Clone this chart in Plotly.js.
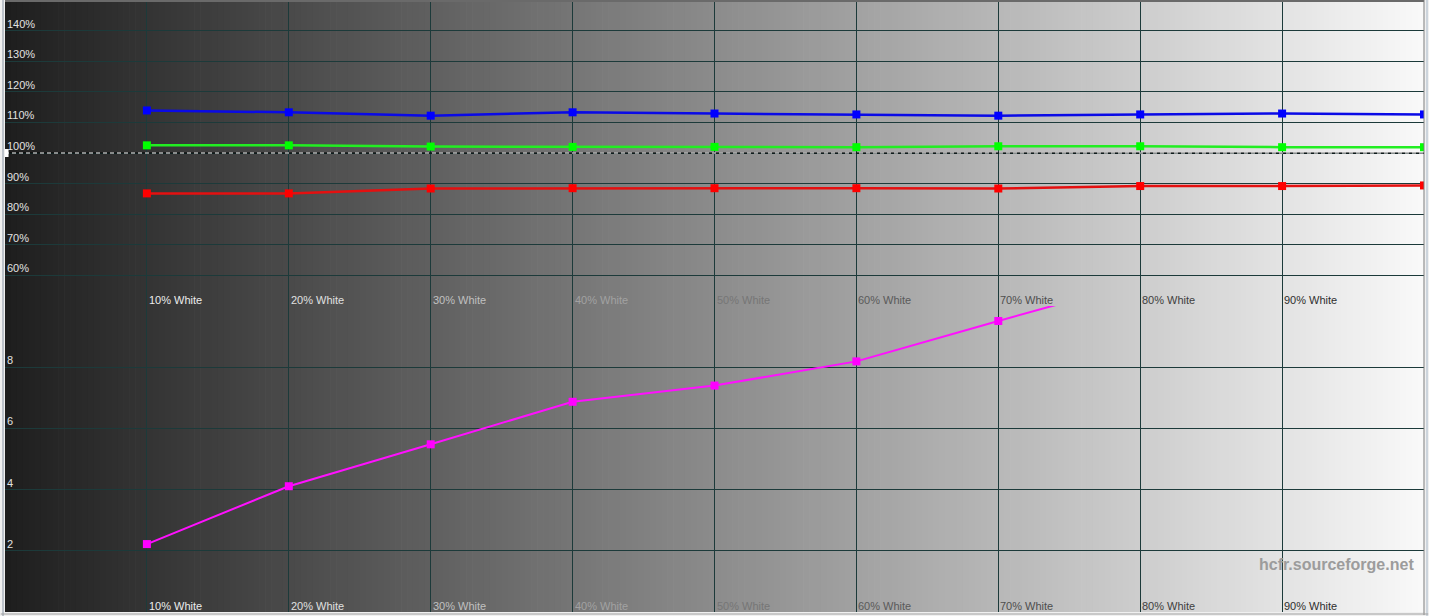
<!DOCTYPE html>
<html>
<head>
<meta charset="utf-8">
<script src="https://cdn.plot.ly/plotly-3.0.1.min.js"></script>
<style>html,body{margin:0;padding:0;background:#f0f0f0;}#chart{width:1429px;height:616px;}</style>
</head>
<body>
<div id="chart"></div>
<script>
// ---- data ----
const levels = [10, 20, 30, 40, 50, 60, 70, 80, 90, 100];
const levelLabels = ["10% White", "20% White", "30% White", "40% White", "50% White", "60% White", "70% White", "80% White", "90% White"];
const redLevel   = [86.8, 86.8, 88.4, 88.5, 88.5, 88.5, 88.4, 89.2, 89.2, 89.4];
const greenLevel = [102.5, 102.5, 102.1, 102.0, 102.0, 101.9, 102.2, 102.2, 101.9, 101.9];
const blueLevel  = [113.9, 113.3, 112.2, 113.3, 112.9, 112.6, 112.2, 112.6, 112.9, 112.6];
const deltaE     = [2.22, 4.11, 5.48, 6.87, 7.40, 8.19, 9.51, 10.8, 11.9, 12.8];
const topTicks = [60, 70, 80, 90, 100, 110, 120, 130, 140];
const topTickLabels = ["60%", "70%", "80%", "90%", "100%", "110%", "120%", "130%", "140%"];
const bottomTicks = [2, 4, 6, 8];
const bottomTickLabels = ["2", "4", "6", "8"];
const referenceLevel = 100;

// ---- style ----
const labelColors = ["#ececec", "#e0e0e0", "#c0c0c0", "#a2a2a2", "#767676", "#5a5a5a", "#4e4e4e", "#3e3e3e", "#2e2e2e"];
const gridColor = "#1c3a3a";
const FONT = "Liberation Sans, Arial, sans-serif";

const traces = [
  {x: levels, y: blueLevel, xaxis: "x", yaxis: "y", mode: "lines+markers",
   line: {color: "#0a0ae6", width: 2.5}, marker: {symbol: "square", size: 8, color: "#0000ff"}},
  {x: levels, y: greenLevel, xaxis: "x", yaxis: "y", mode: "lines+markers",
   line: {color: "#22ee22", width: 2.5}, marker: {symbol: "square", size: 8, color: "#00ff00"}},
  {x: levels, y: redLevel, xaxis: "x", yaxis: "y", mode: "lines+markers",
   line: {color: "#e41010", width: 2.5}, marker: {symbol: "square", size: 8, color: "#ff0000"}},
  {x: levels, y: deltaE, xaxis: "x2", yaxis: "y2", mode: "lines+markers",
   line: {color: "#ff10ff", width: 2}, marker: {symbol: "square", size: 8, color: "#ff00ff"}}
];

// background gradient (style only)
const shapes = [];
const N = 240;
for (let i = 0; i < N; i++) {
  const t = (i + 0.5) / N;
  const v = Math.round(30 + t * (249 - 30));
  shapes.push({type: "rect", xref: "paper", yref: "paper", x0: i / N, x1: (i + 1) / N + 0.0005, y0: 0, y1: 1,
    fillcolor: `rgb(${v},${v},${v})`, line: {width: 0}, layer: "below"});
}
// reference 100% line: black under white dashes
shapes.push({type: "line", xref: "paper", yref: "y", x0: 0, x1: 1, y0: referenceLevel, y1: referenceLevel,
  line: {color: "#000000", width: 1}, layer: "above"});
shapes.push({type: "line", xref: "paper", yref: "y", x0: 0, x1: 1, y0: referenceLevel, y1: referenceLevel,
  line: {color: "#ffffff", width: 1, dash: "4px,3px"}, layer: "above"});
shapes.push({type: "rect", xref: "paper", yref: "y", x0: 0, x1: 0.0025, y0: referenceLevel - 1.3, y1: referenceLevel + 1.3,
  fillcolor: "#ffffff", line: {width: 0}, layer: "above"});
// frame
shapes.push({type: "line", xref: "paper", yref: "paper", x0: -2/1419, x1: -2/1419, y0: -0.01, y1: 1,
  line: {color: "#8a96a4", width: 1}});
shapes.push({type: "line", xref: "paper", yref: "paper", x0: 0, x1: 1, y0: 0.9985, y1: 0.9985,
  line: {color: "#6a6a6a", width: 2}});
shapes.push({type: "line", xref: "paper", yref: "paper", x0: 1, x1: 1, y0: -0.005, y1: 1,
  line: {color: "#7a7a7a", width: 1}});
shapes.push({type: "line", xref: "paper", yref: "paper", x0: 1 + 3/1419, x1: 1 + 3/1419, y0: -0.01, y1: 1,
  line: {color: "#a8b8c8", width: 1}});
shapes.push({type: "line", xref: "paper", yref: "paper", x0: -0.003, x1: 1.003, y0: -2/612, y1: -2/612,
  line: {color: "#a0a0a0", width: 1}});

const annotations = [];
levelLabels.forEach((lab, i) => {
  annotations.push({text: lab, x: levels[i], xref: "x", y: 50, yref: "y", xanchor: "left", yanchor: "bottom",
    showarrow: false, xshift: 0, yshift: -2, font: {family: FONT, size: 11, color: labelColors[i]}});
  annotations.push({text: lab, x: levels[i], xref: "x2", y: 0, yref: "y2", xanchor: "left", yanchor: "bottom",
    showarrow: false, xshift: 0, yshift: -2, font: {family: FONT, size: 11, color: labelColors[i]}});
});
topTicks.forEach((v, i) => {
  annotations.push({text: topTickLabels[i], x: 0, xref: "paper", y: v, yref: "y", xanchor: "left", yanchor: "bottom",
    showarrow: false, xshift: 0, yshift: -1, font: {family: FONT, size: 11, color: "#e2e2e2"}});
});
bottomTicks.forEach((v, i) => {
  annotations.push({text: bottomTickLabels[i], x: 0, xref: "paper", y: v, yref: "y2", xanchor: "left", yanchor: "bottom",
    showarrow: false, xshift: 0, yshift: -1, font: {family: FONT, size: 11, color: "#e2e2e2"}});
});
annotations.push({text: "<b>hcfr.sourceforge.net</b>", x: 1, xref: "paper", y: 1.55, yref: "y2",
  xanchor: "right", yanchor: "middle", xshift: -8, showarrow: false,
  font: {family: FONT, size: 16, color: "#9c9c9c"}});

const axX = {range: [0, 100], tickvals: levels, showticklabels: false, showgrid: true, gridcolor: gridColor,
  gridwidth: 1, zeroline: false, showline: false, ticks: "", fixedrange: true};

const layout = {
  width: 1429, height: 616,
  margin: {l: 5, r: 5, t: 0, b: 4},
  paper_bgcolor: "#f0f0f0", plot_bgcolor: "rgba(0,0,0,0)",
  showlegend: false,
  xaxis: Object.assign({}, axX, {anchor: "y", domain: [0, 1]}),
  xaxis2: Object.assign({}, axX, {anchor: "y2", domain: [0, 1]}),
  yaxis: {domain: [0.5, 1], range: [50, 150], tickvals: topTicks, showticklabels: false, showgrid: true,
    gridcolor: gridColor, gridwidth: 1, zeroline: false, showline: false, ticks: "", anchor: "x"},
  yaxis2: {domain: [0, 0.5], range: [0, 10], tickvals: bottomTicks, showticklabels: false, showgrid: true,
    gridcolor: gridColor, gridwidth: 1, zeroline: false, showline: false, ticks: "", anchor: "x2"},
  shapes: shapes,
  annotations: annotations,
  font: {family: FONT}
};

Plotly.newPlot("chart", traces, layout, {displayModeBar: false, staticPlot: true});
</script>
</body>
</html>
